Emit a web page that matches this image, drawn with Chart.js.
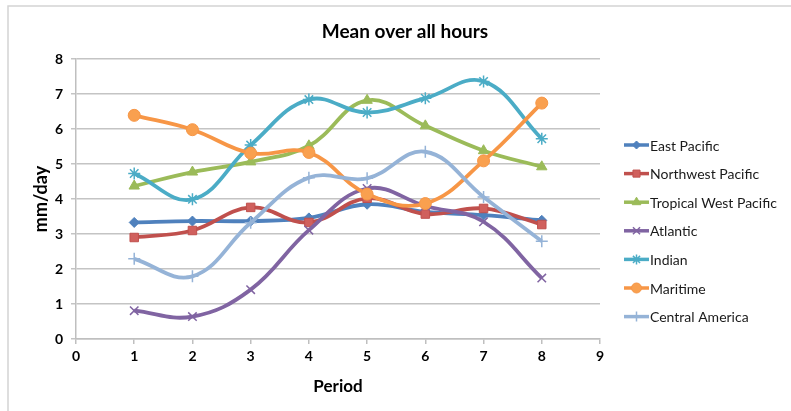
<!DOCTYPE html>
<html>
<head>
<meta charset="utf-8">
<script src="https://cdn.jsdelivr.net/npm/chart.js@4.4.1/dist/chart.umd.min.js"></script>
<style>
    html, body { margin: 0; padding: 0; background: #ffffff; }
    #wrap { width: 791px; height: 411px; position: relative; }
</style>
</head>
<body>
<div id="wrap"><canvas id="chart" width="791" height="411"></canvas></div>
<script>
// Data
const periods = [1, 2, 3, 4, 5, 6, 7, 8];
const eastPacific = [3.33, 3.37, 3.37, 3.46, 3.85, 3.63, 3.54, 3.39];
const northwestPacific = [2.90, 3.10, 3.76, 3.33, 4.02, 3.57, 3.73, 3.27];
const tropicalWestPacific = [4.37, 4.77, 5.06, 5.52, 6.82, 6.09, 5.38, 4.92];
const atlantic = [0.81, 0.64, 1.41, 3.11, 4.30, 3.80, 3.35, 1.74];
const indian = [4.73, 3.99, 5.54, 6.84, 6.47, 6.88, 7.36, 5.72];
const maritime = [6.39, 5.98, 5.31, 5.33, 4.14, 3.87, 5.09, 6.74];
const centralAmerica = [2.29, 1.79, 3.32, 4.61, 4.59, 5.35, 4.06, 2.79];

const chartTitle = "Mean over all hours";
const seriesNames = ["East Pacific", "Northwest Pacific", "Tropical West Pacific", "Atlantic", "Indian", "Maritime", "Central America"];
const seriesValues = [eastPacific, northwestPacific, tropicalWestPacific, atlantic, indian, maritime, centralAmerica];
const seriesColors = ["#4f81bd", "#c0504d", "#9bbb59", "#8064a2", "#4bacc6", "#f79646", "#95b3d7"];
const markerColors = ["#4f81bd", "#d0605d", "#9bbb59", "#8064a2", "#4bacc6", "#f9a04f", "#95b3d7"];
const markerStyles = ["rectRot", "rect", "triangle", "crossRot", "star", "circle", "cross"];
const markerSizes = [5, 6, 6, 6, 6, 6, 6];

const FONT = "Lato, 'Open Sans', sans-serif";

const datasets = seriesNames.map((name, i) => ({
    label: name,
    data: periods.map((p, j) => ({ x: p, y: seriesValues[i][j] })),
    borderColor: seriesColors[i],
    backgroundColor: markerColors[i],
    borderWidth: 3.8,
    pointStyle: markerStyles[i],
    pointRadius: markerSizes[i],
    pointBackgroundColor: markerColors[i],
    pointBorderColor: seriesColors[i],
    pointBorderWidth: (markerStyles[i] === "crossRot" || markerStyles[i] === "star" || markerStyles[i] === "cross") ? 1.5 : 1,
    tension: 0.4,
    fill: false,
    order: 6 - i
}));

// Frame, title and legend drawn by hand (Excel style: line with marker)
const excelDecor = {
    id: "excelDecor",
    beforeDraw(chart) {
        const ctx = chart.ctx;
        ctx.save();
        ctx.fillStyle = "#ffffff";
        ctx.fillRect(0, 0, chart.width, chart.height);
        ctx.strokeStyle = "#d4d4d4";
        ctx.lineWidth = 1.5;
        ctx.beginPath();
        ctx.moveTo(8, chart.height);
        ctx.lineTo(8, 6);
        ctx.lineTo(chart.width, 6);
        ctx.stroke();
        ctx.restore();
    },
    afterDraw(chart) {
        const ctx = chart.ctx;
        ctx.save();
        ctx.fillStyle = "#000000";
        ctx.font = "bold 19px " + FONT;
        ctx.textAlign = "center";
        ctx.textBaseline = "middle";
        ctx.fillText(chartTitle, 405, 32);

        ctx.font = "14px " + FONT;
        ctx.textAlign = "left";
        chart.data.datasets.forEach((ds, i) => {
            const y = 145 + i * 28.6;
            ctx.strokeStyle = ds.borderColor;
            ctx.lineWidth = 3.5;
            ctx.beginPath();
            ctx.moveTo(624, y);
            ctx.lineTo(649, y);
            ctx.stroke();
            ctx.fillStyle = ds.pointBackgroundColor;
            ctx.strokeStyle = ds.pointBorderColor;
            ctx.lineWidth = ds.pointBorderWidth;
            Chart.helpers.drawPoint(ctx, { pointStyle: ds.pointStyle, radius: ds.pointRadius - 1, borderWidth: ds.pointBorderWidth, rotation: 0 }, 636.5, y);
            ctx.fillStyle = "#1a1a1a";
            ctx.fillText(ds.label, 650, y + 1);
        });
        ctx.restore();
    }
};

new Chart(document.getElementById("chart"), {
    type: "line",
    data: { datasets: datasets },
    plugins: [excelDecor],
    options: {
        responsive: false,
        animation: false,
        layout: { padding: { left: 30, right: 191, top: 59, bottom: 0 } },
        plugins: {
            legend: { display: false },
            tooltip: { enabled: false },
            title: { display: false }
        },
        scales: {
            x: {
                type: "linear",
                min: 0,
                max: 9,
                afterFit: (scale) => { scale.height = 72; },
                ticks: {
                    stepSize: 1,
                    color: "#000000",
                    padding: 4,
                    font: { family: FONT, size: 14, weight: "bold" }
                },
                grid: { drawOnChartArea: false, drawTicks: true, tickLength: 5, color: "#bfbfbf", lineWidth: 1.5 },
                border: { display: true, color: "#bfbfbf", width: 1.5 },
                title: {
                    display: true,
                    text: "Period",
                    color: "#000000",
                    font: { family: FONT, size: 17, weight: "bold" },
                    padding: { top: 0, bottom: 14 }
                }
            },
            y: {
                min: 0,
                max: 8,
                afterFit: (scale) => { scale.width = 46; },
                ticks: {
                    stepSize: 1,
                    color: "#000000",
                    padding: 8,
                    font: { family: FONT, size: 14, weight: "bold" }
                },
                grid: { color: "#c4c4c4", lineWidth: 1.5, tickLength: 5 },
                border: { display: true, color: "#bfbfbf", width: 1.5 },
                title: {
                    display: true,
                    text: "mm/day",
                    color: "#000000",
                    font: { family: FONT, size: 18, weight: "bold" },
                    padding: { top: 0, bottom: 0 }
                }
            }
        }
    }
});
</script>
</body>
</html>
